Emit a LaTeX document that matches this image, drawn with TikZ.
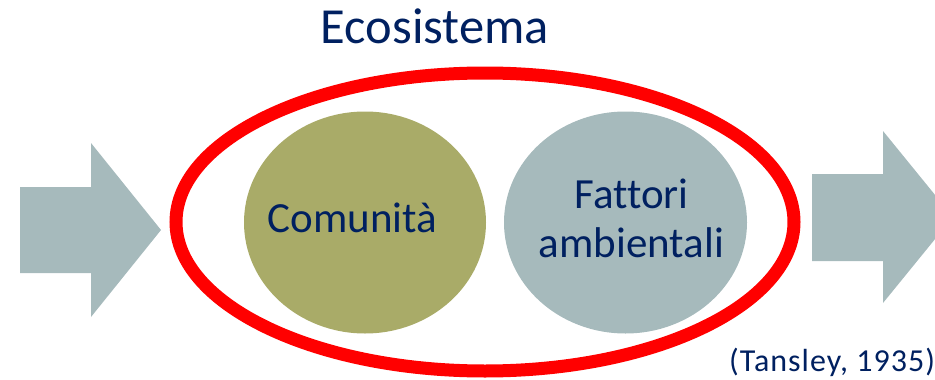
\documentclass[tikz,border=0pt]{standalone}
\usepackage{fontspec}
\setmainfont[Ligatures=NoCommon]{Carlito}
\newfontfamily\spacedfont[Ligatures=NoCommon, LetterSpace=3.2]{Carlito}
\definecolor{navy}{HTML}{002060}
\definecolor{olive}{RGB}{169,171,104}
\definecolor{greyblue}{RGB}{166,186,188}
\definecolor{ecored}{HTML}{FF0000}
\tikzset{
  bigarrow/.style={fill=greyblue, draw=none},
  lbl/.style={text=navy, inner sep=0pt, anchor=base}
}
\begin{document}
\begin{tikzpicture}[x=1pt,y=-1pt]
\useasboundingbox (0,0) rectangle (935,380);
\clip (0,0) rectangle (935,380);
% arrows
\path[bigarrow] (20,187) -- (91,187) -- (91,143) -- (161,230) -- (91,317) -- (91,273) -- (20,273) -- cycle;
\path[bigarrow] (812,174) -- (883,174) -- (883,131) -- (953,217) -- (883,303) -- (883,261) -- (812,261) -- cycle;
% circles
\fill[olive] (365,222.5) ellipse [x radius=121, y radius=111];
\fill[greyblue] (625.5,222.5) ellipse [x radius=121.5, y radius=111];
% ecosystem boundary
\draw[ecored, line width=13pt] (485,222) ellipse [x radius=309, y radius=149];
% texts
\node[lbl, font=\fontsize{50.5}{60}\selectfont] (eco) at (435,43) {Ecosistema};
\node[lbl, font=\fontsize{43}{49}\selectfont] (com) at (352.5,232) {Comunità};
\node[lbl, font=\fontsize{43}{49}\selectfont] (fat) at (631.5,208) {Fattori};
\node[lbl, font=\fontsize{43}{49}\selectfont] (amb) at (631.5,257) {ambientali};
\node[lbl, anchor=base west, font=\spacedfont\fontsize{32}{38}\selectfont] (tan) at (729,371) {(Tansley, 1935)};
\end{tikzpicture}
\end{document}
